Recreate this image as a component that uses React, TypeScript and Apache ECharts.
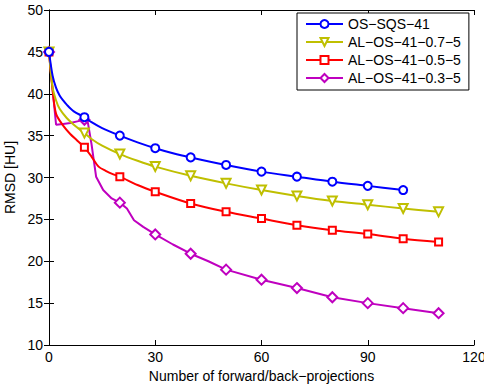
import React, { useEffect, useRef } from "react";
import * as echarts from "echarts";

const seriesNames = ["OS−SQS−41", "AL−OS−41−0.7−5", "AL−OS−41−0.5−5", "AL−OS−41−0.3−5"];

const blueX = [0, 1, 2, 3, 4, 5, 7, 10, 12, 15, 20, 25, 30, 35, 40, 50, 60, 70, 80, 90, 100];
const blueY = [45, 42.2, 40.7, 39.8, 39.2, 38.7, 37.9, 37.2, 36.6, 35.9, 35.0, 34.2, 33.5, 32.9, 32.4, 31.5, 30.7, 30.1, 29.5, 29.0, 28.5];

const yellowX = [0, 1, 2, 3, 5, 7, 10, 12, 15, 20, 25, 30, 40, 50, 60, 70, 80, 90, 100, 110];
const yellowY = [45, 40.8, 39.2, 38.2, 37.1, 36.3, 35.3, 34.6, 33.8, 32.8, 32.0, 31.3, 30.2, 29.3, 28.5, 27.8, 27.2, 26.75, 26.3, 25.9];

const redX = [0, 1, 2, 4, 6, 8, 10, 12, 14, 16, 18, 20, 25, 30, 40, 50, 60, 70, 80, 90, 100, 110];
const redY = [45, 40.5, 37.6, 36.2, 35.2, 34.4, 33.6, 32.5, 31.3, 30.8, 30.4, 30.1, 29.1, 28.3, 26.9, 25.9, 25.1, 24.3, 23.7, 23.25, 22.7, 22.3];

const magentaX = [0, 1, 2, 4, 6, 8, 10, 11, 12, 12.5, 13.3, 15.3, 17.7, 20, 22, 24, 26.6, 30, 35, 40, 45, 50, 60, 70, 80, 90, 100, 110];
const magentaY = [45, 40.6, 36.3, 36.4, 36.5, 36.7, 36.9, 36.5, 34.0, 32.5, 30.1, 28.5, 27.5, 27.0, 26.3, 24.9, 24.1, 23.2, 22.0, 20.9, 20.0, 19.0, 17.8, 16.8, 15.7, 15.0, 14.4, 13.8];

const colors = ["#0000ff", "#bfbf00", "#ff0000", "#bf00bf"];
const symbols = ["emptyCircle", "emptyTriangle", "emptyRect", "emptyDiamond"];
const symbolRotates = [0, 180, 0, 0];
const symbolSizes = [8, 9, 7, 10];
const markerStep = 10;

const xTicks = { min: 0, max: 120, interval: 30 };
const yTicks = { min: 10, max: 50, interval: 5 };

const FONT = "'Liberation Sans', Arial, sans-serif";

function buildData(xs: number[], ys: number[]) {
  return xs.map((x, i) =>
    x % markerStep === 0
      ? { value: [x, ys[i]] }
      : { value: [x, ys[i]], symbol: "none" }
  );
}

export default function App() {
  const ref = useRef<HTMLDivElement>(null);
  useEffect(() => {
    if (!ref.current) return;
    const chart = echarts.init(ref.current, null, { renderer: "svg" });
    const allX = [blueX, yellowX, redX, magentaX];
    const allY = [blueY, yellowY, redY, magentaY];
    const axisCommon = {
      axisLine: { show: true, lineStyle: { color: "#000", width: 1 } },
      axisTick: { show: true, inside: true, length: 5, lineStyle: { color: "#000" } },
      splitLine: { show: false },
    };
    chart.setOption({
      animation: false,
      backgroundColor: "#fff",
      textStyle: { fontFamily: FONT },
      grid: { left: 49, right: 10, top: 10, bottom: 41, containLabel: false, outerBoundsMode: "none" },
      legend: {
        orient: "vertical",
        left: 297,
        top: 13,
        width: 170,
        padding: [3, 8, 4, 8],
        itemGap: 2,
        itemWidth: 37,
        itemHeight: 10,
        borderColor: "#000",
        borderWidth: 1,
        backgroundColor: "#fff",
        textStyle: { fontSize: 14, lineHeight: 16, color: "#000", fontFamily: FONT },
        data: seriesNames,
      },
      xAxis: [
        {
          type: "value",
          ...xTicks,
          ...axisCommon,
          axisLabel: { fontSize: 14, color: "#000", margin: 5, fontFamily: FONT },
          name: "Number of forward/back−projections",
          nameLocation: "middle",
          nameGap: 20,
          nameTextStyle: { fontSize: 14, color: "#000", fontFamily: FONT },
        },
        {
          type: "value",
          position: "top",
          ...xTicks,
          ...axisCommon,
          axisLabel: { show: false },
        },
      ],
      yAxis: [
        {
          type: "value",
          ...yTicks,
          ...axisCommon,
          axisLabel: { fontSize: 14, color: "#000", margin: 6, fontFamily: FONT },
          name: "RMSD [HU]",
          nameLocation: "middle",
          nameGap: 28,
          nameTextStyle: { fontSize: 14, color: "#000", fontFamily: FONT },
        },
        {
          type: "value",
          position: "right",
          ...yTicks,
          ...axisCommon,
          axisLabel: { show: false },
        },
      ],
      series: seriesNames.map((name, k) => ({
        name,
        type: "line",
        data: buildData(allX[k], allY[k]),
        symbol: symbols[k],
        symbolSize: symbolSizes[k],
        symbolRotate: symbolRotates[k],
        showAllSymbol: true,
        smooth: k === 3 ? false : 0.3,
        color: colors[k],
        lineStyle: { color: colors[k], width: 2 },
        itemStyle: { color: colors[k], borderColor: colors[k], borderWidth: 1.6 },
        z: 10 - k,
      })),
    });
    return () => chart.dispose();
  }, []);
  return (
    <div
      ref={ref}
      style={{ position: "fixed", left: 0, top: 0, width: 484, height: 386 }}
    />
  );
}
